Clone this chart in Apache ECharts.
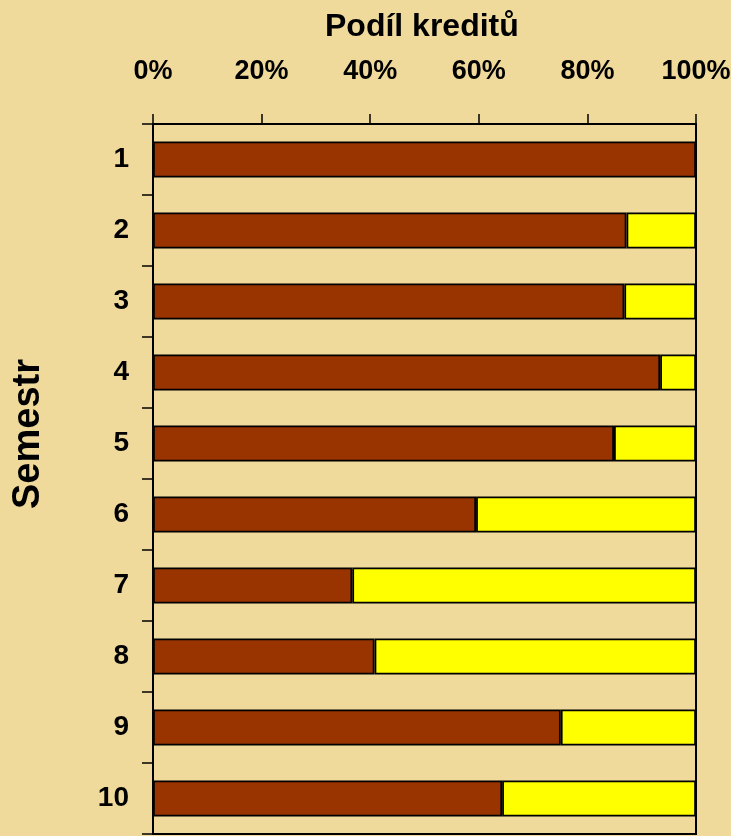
<!DOCTYPE html>
<html>
<head>
<meta charset="utf-8">
<script src="https://cdn.jsdelivr.net/npm/echarts@6/dist/echarts.min.js"></script>
<style>
  html, body { margin: 0; padding: 0; background: #efd99b; }
  #chart { width: 731px; height: 836px; }
</style>
</head>
<body>
<div id="chart"></div>
<script>
// semestry shora dolu
const semesters = ['1', '2', '3', '4', '5', '6', '7', '8', '9', '10']
// podil kreditu v % (hnede = splneno, zlute = zbytek)
const passed = [100, 87.2, 86.8, 93.4, 84.9, 59.5, 36.7, 40.8, 75.1, 64.3]
const rest = [0, 12.8, 13.2, 6.6, 15.1, 40.5, 63.3, 59.2, 24.9, 35.7]
const xTicks = [0, 20, 40, 60, 80, 100]

const narrow = "'Liberation Sans Narrow', 'Arial Narrow', 'Liberation Sans', Arial, sans-serif"
const wide = "'Liberation Sans', Arial, sans-serif"

const chart = echarts.init(document.getElementById('chart'))
chart.setOption({
  animation: false,
  backgroundColor: '#efd99b',
  title: {
    text: 'Podíl kreditů',
    left: 320,
    top: 6,
    textStyle: { fontFamily: wide, fontWeight: 'bold', fontSize: 32, color: '#000' }
  },
  graphic: [{
    type: 'text',
    x: 29,
    y: 434,
    rotation: Math.PI / 2,
    style: {
      text: 'Semestr',
      align: 'center',
      verticalAlign: 'middle',
      font: "bold 38px 'Liberation Sans', Arial, sans-serif",
      fill: '#000'
    }
  }],
  grid: {
    left: 153,
    right: 35,
    top: 124,
    bottom: 2,
    outerBoundsMode: 'none',
    containLabel: false,
    show: true,
    borderColor: '#000',
    borderWidth: 2,
    backgroundColor: 'transparent'
  },
  xAxis: {
    type: 'value',
    position: 'top',
    min: xTicks[0],
    max: xTicks[xTicks.length - 1],
    interval: 20,
    splitLine: { show: false },
    axisLine: { show: true, lineStyle: { color: '#000', width: 2 } },
    axisTick: { show: true, length: 10, lineStyle: { color: '#000', width: 1.5 } },
    axisLabel: {
      margin: 39,
      formatter: '{value}%',
      fontFamily: narrow,
      fontWeight: 'bold',
      fontSize: 27,
      color: '#000'
    }
  },
  yAxis: {
    type: 'category',
    inverse: true,
    data: semesters,
    axisLine: { show: true, lineStyle: { color: '#000', width: 2 } },
    axisTick: { show: true, length: 11, lineStyle: { color: '#000', width: 1.5 } },
    axisLabel: {
      margin: 24,
      fontFamily: narrow,
      fontWeight: 'bold',
      fontSize: 28,
      color: '#000'
    }
  },
  series: [
    {
      type: 'bar',
      stack: 'k',
      data: passed,
      barWidth: 36,
      itemStyle: { color: '#993300', borderColor: '#000', borderWidth: 1.8 }
    },
    {
      type: 'bar',
      stack: 'k',
      data: rest,
      barWidth: 36,
      itemStyle: { color: '#ffff00', borderColor: '#000', borderWidth: 1.8 }
    }
  ]
})
</script>
</body>
</html>
